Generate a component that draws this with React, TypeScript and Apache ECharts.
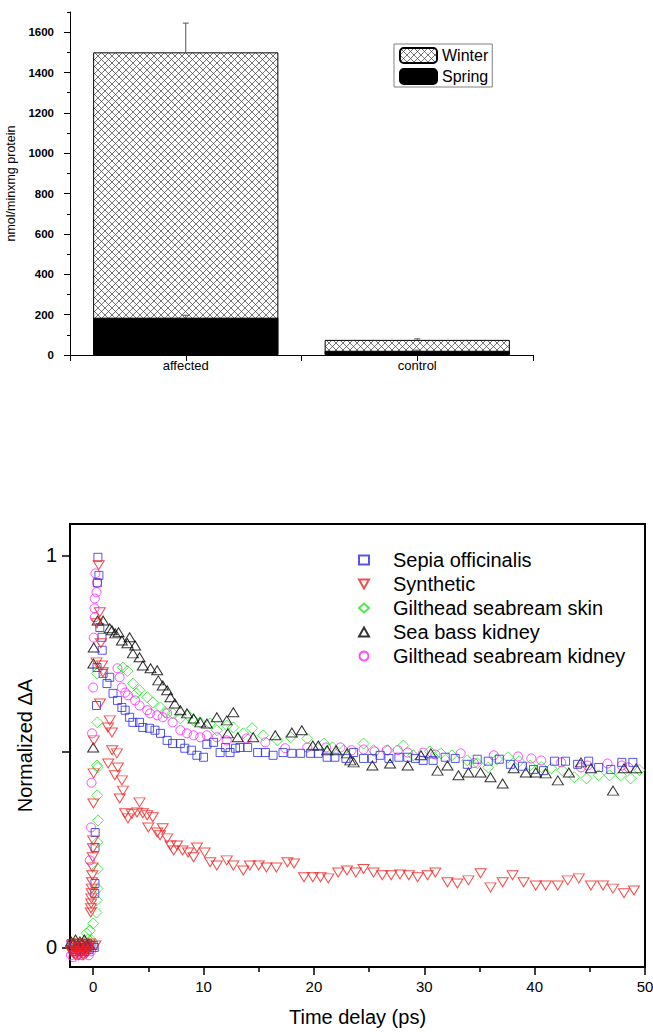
import React, { useEffect, useRef } from "react";
import * as echarts from "echarts";

// ---------- Top chart data ----------
const barCategories = ["affected", "control"];
const winterValues = [1500, 75];
const springValues = [185, 21];
const winterErrors = [145, 5];
const springErrors = [12, 3];
const barMajorTicks = [0, 200, 400, 600, 800, 1000, 1200, 1400, 1600];
const barMinorTicks = [100, 300, 500, 700, 900, 1100, 1300, 1500, 1700];

// ---------- Bottom chart data ----------
const seriesNames = [
  "Sepia officinalis",
  "Synthetic",
  "Gilthead seabream skin",
  "Sea bass kidney",
  "Gilthead seabream kidney",
];
const xMajorTicks = [0, 10, 20, 30, 40, 50];
const xMinorTicks = [5, 15, 25, 35, 45];
const yTicks = [0, 0.5, 1];
const yLabels = [0, 1];

const sepiaData = [
  [-2.0, 0.01], [-1.85, -0.005], [-1.7, 0.005], [-1.55, -0.01], [-1.4, 0.0], [-1.25, 0.01], [-1.1, -0.005],
  [-0.95, 0.005], [-0.8, -0.01], [-0.65, 0.0], [-0.5, 0.01], [-0.35, -0.005], [-0.2, 0.005], [0.0, 0.005], [0.1, 0.0],
  [0.15, 0.138], [0.16, 0.163], [0.17, 0.255], [0.18, 0.293], [0.3, 0.617], [0.35, 0.714], [0.38, 0.93],
  [0.43, 0.995], [0.52, 0.949], [0.6, 0.816], [0.8, 0.791], [0.82, 0.758], [0.9, 0.699], [1.5, 0.689],
  [1.25, 0.673], [1.8, 0.648], [2.2, 0.63], [2.6, 0.612], [2.9, 0.605], [3.3, 0.587], [3.6, 0.574],
  [4.2, 0.574], [4.5, 0.561], [5.1, 0.559], [5.6, 0.554], [6.1, 0.546], [6.7, 0.528], [7.2, 0.52],
  [7.9, 0.52], [8.3, 0.508], [8.9, 0.503], [9.4, 0.49], [10.0, 0.485], [10.3, 0.518], [10.9, 0.523],
  [11.5, 0.497], [12.0, 0.51], [12.4, 0.497], [12.9, 0.508], [13.3, 0.51], [14.0, 0.51], [14.9, 0.497],
  [15.6, 0.497], [16.3, 0.49], [17.2, 0.497], [18.0, 0.495], [18.8, 0.495], [19.7, 0.495], [20.4, 0.495],
  [21.2, 0.485], [21.9, 0.485], [22.9, 0.482], [23.6, 0.497], [24.5, 0.482], [25.3, 0.482], [26.0, 0.49],
  [26.8, 0.482], [27.7, 0.485], [28.5, 0.485], [29.2, 0.482], [29.9, 0.477], [30.8, 0.477], [31.9, 0.485],
  [32.8, 0.482], [33.9, 0.467], [34.8, 0.48], [35.8, 0.475], [36.8, 0.48], [37.8, 0.467], [38.9, 0.462],
  [39.9, 0.454], [40.8, 0.451], [41.8, 0.475], [42.8, 0.475], [43.9, 0.467], [44.9, 0.475], [45.8, 0.459],
  [46.9, 0.454], [47.9, 0.472], [48.9, 0.472],
];

const syntheticData = [
  [-2.0, -0.01], [-1.9, 0.005], [-1.8, -0.015], [-1.7, 0.0], [-1.6, -0.02], [-1.5, 0.01], [-1.4, -0.01],
  [-1.3, -0.02], [-1.2, 0.0], [-1.1, -0.015], [-1.0, -0.005], [-0.9, -0.02], [-0.8, -0.01], [-0.7, 0.005],
  [-0.6, -0.015], [-0.5, -0.005], [-0.4, 0.0], [-0.3, 0.01], [0.2, 0.005],
  [-0.22, 0.089], [-0.2, 0.1], [-0.18, 0.112], [-0.16, 0.125], [-0.14, 0.138], [-0.12, 0.15], [-0.1, 0.166],
  [-0.08, 0.184], [-0.06, 0.204], [-0.04, 0.23], [-0.02, 0.253], [0.0, 0.273], [0.02, 0.367], [0.04, 0.444],
  [0.06, 0.528], [0.3, 0.727], [0.34, 0.827], [0.5, 0.975], [0.6, 0.855], [0.7, 0.776], [0.8, 0.719],
  [0.88, 0.702], [0.62, 0.622], [1.34, 0.561], [1.5, 0.579], [1.7, 0.548], [1.72, 0.503], [2.15, 0.495],
  [1.36, 0.469], [2.24, 0.459], [1.97, 0.439], [2.6, 0.426], [2.7, 0.4], [2.4, 0.38], [2.9, 0.342],
  [3.15, 0.329], [3.5, 0.34], [3.97, 0.344], [4.2, 0.37], [4.5, 0.342], [4.9, 0.337], [5.0, 0.306],
  [5.4, 0.332], [5.8, 0.293], [6.06, 0.286], [6.3, 0.304], [6.7, 0.278], [7.0, 0.26], [7.3, 0.247],
  [7.6, 0.26], [8.1, 0.247], [8.6, 0.242], [9.1, 0.23], [9.4, 0.255], [10.1, 0.242], [10.6, 0.217],
  [11.2, 0.209], [12.1, 0.222], [12.7, 0.209], [13.6, 0.196], [14.2, 0.209], [15.0, 0.209], [15.7, 0.204],
  [16.6, 0.204], [17.6, 0.217], [18.2, 0.214], [19.1, 0.179], [19.9, 0.179], [20.6, 0.179], [21.3, 0.176],
  [22.2, 0.191], [23.0, 0.196], [23.8, 0.191], [24.5, 0.2], [25.4, 0.191], [26.2, 0.184], [27.0, 0.184],
  [27.8, 0.186], [28.6, 0.184], [29.4, 0.179], [30.3, 0.184], [31.0, 0.191], [32.1, 0.166], [33.0, 0.163],
  [34.0, 0.171], [35.1, 0.189], [36.0, 0.153], [37.1, 0.166], [38.0, 0.184], [39.0, 0.166], [40.1, 0.158],
  [41.0, 0.158], [42.1, 0.158], [43.0, 0.171], [44.0, 0.176], [45.1, 0.158], [46.2, 0.158], [47.1, 0.15],
  [48.1, 0.138], [49.0, 0.145],
];

const skinData = [
  [-2.0, 0.0], [-1.7, 0.01], [-1.4, -0.005], [-1.1, 0.005], [-0.8, 0.0], [-0.6, 0.036], [-0.45, 0.02],
  [-0.3, 0.043], [-0.15, 0.018], [0.0, 0.061], [0.3, 0.089], [0.32, 0.12], [0.4, 0.15], [0.42, 0.2],
  [0.38, 0.268], [0.44, 0.324], [0.36, 0.388], [0.4, 0.459], [0.34, 0.464], [0.38, 0.574], [0.35, 0.699],
  [2.7, 0.714], [3.1, 0.705], [3.6, 0.673], [3.9, 0.648], [4.2, 0.656], [4.9, 0.638], [5.4, 0.625],
  [6.1, 0.612], [6.5, 0.6], [7.2, 0.597], [7.9, 0.584], [8.6, 0.592], [9.1, 0.579], [9.7, 0.574],
  [10.6, 0.571], [11.2, 0.554], [12.1, 0.566], [12.7, 0.561], [13.6, 0.546], [14.4, 0.559], [15.4, 0.541],
  [16.7, 0.528], [17.9, 0.536], [19.4, 0.533], [20.9, 0.52], [21.7, 0.51], [22.7, 0.503], [24.5, 0.52],
  [25.4, 0.503], [26.7, 0.503], [28.1, 0.515], [29.0, 0.49], [30.5, 0.5], [31.5, 0.495], [32.5, 0.49],
  [33.9, 0.477], [34.8, 0.47], [35.8, 0.459], [36.6, 0.48], [37.6, 0.485], [38.6, 0.475], [39.6, 0.464],
  [40.6, 0.46], [41.5, 0.457], [42.5, 0.452], [43.6, 0.434], [44.7, 0.431], [45.8, 0.439], [46.8, 0.439],
  [47.8, 0.439], [48.7, 0.431], [49.5, 0.452],
];

const seaBassData = [
  [-2.0, 0.015], [-1.8, 0.01], [-1.6, 0.02], [-1.4, 0.005], [-1.2, 0.015], [-1.0, 0.01], [-0.8, 0.02],
  [-0.6, 0.005], [-0.4, 0.01], [0.0, 0.51], [0.02, 0.724], [0.05, 0.765], [0.4, 0.834], [0.9, 0.834],
  [1.5, 0.814], [1.7, 0.809], [2.0, 0.801], [2.3, 0.804], [2.6, 0.783], [3.1, 0.776], [3.3, 0.791],
  [3.6, 0.75], [3.8, 0.77], [4.2, 0.74], [4.5, 0.719], [5.2, 0.712], [5.8, 0.707], [5.9, 0.681],
  [6.3, 0.668], [6.7, 0.656], [7.0, 0.638], [7.4, 0.622], [7.9, 0.605], [8.5, 0.597], [9.1, 0.584],
  [9.7, 0.574], [10.3, 0.571], [11.2, 0.587], [12.1, 0.579], [12.7, 0.6], [12.2, 0.546], [13.1, 0.536],
  [14.5, 0.536], [16.5, 0.541], [18.0, 0.548], [18.9, 0.554], [19.9, 0.515], [20.4, 0.515], [21.2, 0.503],
  [22.0, 0.503], [23.0, 0.495], [23.3, 0.477], [23.6, 0.472], [25.3, 0.464], [26.9, 0.469], [28.5, 0.464],
  [29.7, 0.49], [30.6, 0.495], [31.2, 0.451], [32.1, 0.464], [33.1, 0.439], [34.0, 0.446], [35.1, 0.446],
  [36.0, 0.434], [37.1, 0.418], [38.1, 0.457], [39.2, 0.446], [40.1, 0.446], [41.0, 0.444], [42.1, 0.426],
  [43.1, 0.446], [44.2, 0.472], [45.1, 0.457], [47.1, 0.4], [48.1, 0.457], [49.2, 0.457],
];

const kidneyData = [
  [-2.0, -0.02], [-1.8, -0.025], [-1.6, -0.015], [-1.4, -0.02], [-1.2, -0.01], [-1.0, -0.02], [-0.8, -0.015],
  [-0.6, -0.01], [-0.4, -0.02], [-0.2, -0.01], [-0.3, 0.222], [-0.2, 0.306], [-0.15, 0.42], [-0.1, 0.546],
  [0.0, 0.663], [0.05, 0.79], [0.15, 0.842], [0.12, 0.865], [0.15, 0.89], [0.3, 0.906], [0.35, 0.93],
  [0.2, 0.954], [2.2, 0.712], [2.4, 0.689], [2.6, 0.663], [2.9, 0.65], [3.15, 0.643], [3.8, 0.63],
  [4.2, 0.617], [4.9, 0.605], [5.15, 0.597], [5.8, 0.592], [6.3, 0.587], [6.7, 0.597], [7.2, 0.574],
  [7.9, 0.554], [8.5, 0.546], [9.1, 0.541], [9.7, 0.536], [10.3, 0.541], [11.2, 0.536], [12.1, 0.528],
  [13.9, 0.533], [15.6, 0.523], [17.4, 0.508], [19.4, 0.51], [21.1, 0.51], [22.4, 0.51], [23.4, 0.503],
  [24.5, 0.505], [25.5, 0.5], [26.6, 0.503], [27.6, 0.503], [28.5, 0.497], [29.9, 0.497], [31.0, 0.492],
  [33.3, 0.495], [34.5, 0.47], [36.3, 0.49], [38.5, 0.487], [39.7, 0.482], [40.6, 0.477], [42.4, 0.472],
  [44.2, 0.459], [44.8, 0.464], [46.6, 0.469], [47.9, 0.464], [48.5, 0.459],
];

const FONT = "'Liberation Sans', Arial, sans-serif";

export default function App() {
  const ref = useRef<HTMLDivElement>(null);

  useEffect(() => {
    if (!ref.current) return;
    const chart = echarts.init(ref.current, null, { renderer: "svg" });

    const T = 7;
    const cv = document.createElement("canvas");
    cv.width = T;
    cv.height = T;
    const ctx = cv.getContext("2d");
    if (ctx) {
      ctx.fillStyle = "#ffffff";
      ctx.fillRect(0, 0, T, T);
      ctx.strokeStyle = "#3a3a3a";
      ctx.lineWidth = 0.7;
      ctx.beginPath();
      ctx.moveTo(-1, -1);
      ctx.lineTo(T + 1, T + 1);
      ctx.moveTo(T + 1, -1);
      ctx.lineTo(-1, T + 1);
      ctx.stroke();
    }
    const hatch: any = { image: cv, repeat: "repeat" };

    const errRender = (params: any, api: any) => {
      const x = api.value(0);
      const v = api.value(1);
      const e = api.value(2);
      const p0 = api.coord([x, v]);
      const p1 = api.coord([x, v + e]);
      return {
        type: "group",
        children: [
          { type: "line", shape: { x1: p0[0], y1: p0[1], x2: p1[0], y2: p1[1] }, style: { stroke: "#555", lineWidth: 1 } },
          { type: "line", shape: { x1: p1[0] - 3, y1: p1[1], x2: p1[0] + 3, y2: p1[1] }, style: { stroke: "#555", lineWidth: 1 } },
        ],
      };
    };

    const scatterBase = (name: string, data: number[][], color: string, symbol: string, size: any, rotate = 0) => ({
      name,
      type: "scatter",
      xAxisIndex: 2,
      yAxisIndex: 2,
      data,
      symbol,
      symbolSize: size,
      symbolRotate: rotate,
      itemStyle: { color: "rgba(255,255,255,0)", borderColor: color, borderWidth: 1 },
      silent: true,
    });

    const legendItems = seriesNames.map((n) =>
      n === "Synthetic" ? { name: n, icon: "path://M0,0L10,0L5,9Z" } : { name: n }
    );

    const option: any = {
      animation: false,
      backgroundColor: "#fff",
      textStyle: { fontFamily: FONT, color: "#000" },
      grid: [
        { left: 70, top: 12, width: 463, height: 343, outerBoundsMode: "none" },
        { left: 70, top: 524, right: 8, bottom: 65, show: true, borderColor: "#000", borderWidth: 2, backgroundColor: "rgba(0,0,0,0)", outerBoundsMode: "none" },
      ],
      legend: [
        {
          data: ["Winter", "Spring"],
          orient: "vertical",
          left: 394,
          top: 44,
          itemWidth: 37,
          itemHeight: 15,
          itemGap: 4,
          padding: [3, 4, 2, 5],
          borderColor: "#808080",
          borderWidth: 1,
          textStyle: { fontSize: 16, lineHeight: 16, color: "#000", fontFamily: FONT },
          selectedMode: false,
        },
        {
          data: legendItems,
          orient: "vertical",
          left: 358,
          top: 550,
          itemWidth: 10,
          itemHeight: 9,
          itemGap: 4,
          padding: 0,
          textStyle: { fontSize: 20, lineHeight: 20, color: "#000", fontFamily: FONT, padding: [0, 0, 0, 19] },
          selectedMode: false,
        },
      ],
      xAxis: [
        {
          gridIndex: 0,
          type: "category",
          data: barCategories,
          axisLine: { show: true, onZero: false, lineStyle: { color: "#000", width: 1 } },
          axisTick: { show: false },
          axisLabel: { fontSize: 13, color: "#000", margin: 4, fontFamily: FONT },
          splitLine: { show: false },
        },
        {
          gridIndex: 0,
          type: "value",
          position: "bottom",
          min: 0,
          max: 4,
          interval: 1,
          axisLine: { show: false, onZero: false },
          axisTick: { show: true, length: 6, lineStyle: { color: "#000", width: 1 } },
          axisLabel: { show: false },
          splitLine: { show: false },
        },
        {
          gridIndex: 1,
          type: "value",
          position: "bottom",
          min: -2.1,
          max: 50,
          axisLine: { show: true, onZero: false, lineStyle: { color: "#000", width: 2 } },
          axisTick: { show: true, customValues: xMajorTicks, length: 8, lineStyle: { color: "#000", width: 1.5 } },
          axisLabel: { customValues: xMajorTicks, fontSize: 15, color: "#000", margin: 12, fontFamily: FONT },
          splitLine: { show: false },
          name: "Time delay (ps)",
          nameLocation: "middle",
          nameGap: 40,
          nameTextStyle: { fontSize: 20, color: "#000", fontFamily: FONT },
        },
        {
          gridIndex: 1,
          type: "value",
          position: "bottom",
          min: -2.1,
          max: 50,
          axisLine: { show: false, onZero: false },
          axisTick: { show: true, customValues: xMinorTicks, length: 5, lineStyle: { color: "#000", width: 1.5 } },
          axisLabel: { show: false },
          splitLine: { show: false },
        },
      ],
      yAxis: [
        {
          gridIndex: 0,
          type: "value",
          position: "left",
          min: 0,
          max: 1700,
          axisLine: { show: true, onZero: false, lineStyle: { color: "#000", width: 1 } },
          axisTick: { show: true, customValues: barMajorTicks, length: 6, lineStyle: { color: "#000", width: 1 } },
          axisLabel: {
            customValues: barMajorTicks,
            formatter: (v: number) => String(v),
            fontSize: 11.5,
            fontWeight: "bold",
            color: "#000",
            margin: 16,
            fontFamily: FONT,
          },
          splitLine: { show: false },
          name: "nmol/minxmg protein",
          nameLocation: "middle",
          nameGap: 42,
          nameTextStyle: { fontSize: 12.5, color: "#000", fontFamily: FONT },
        },
        {
          gridIndex: 0,
          type: "value",
          position: "left",
          min: 0,
          max: 1700,
          axisLine: { show: false, onZero: false },
          axisTick: { show: true, customValues: barMinorTicks, length: 3, lineStyle: { color: "#000", width: 1 } },
          axisLabel: { show: false },
          splitLine: { show: false },
        },
        {
          gridIndex: 1,
          type: "value",
          position: "left",
          min: -0.05,
          max: 1.08,
          axisLine: { show: true, onZero: false, lineStyle: { color: "#000", width: 2 } },
          axisTick: { show: true, customValues: yTicks, length: 8, lineStyle: { color: "#000", width: 1.5 } },
          axisLabel: { customValues: yLabels, fontSize: 20, color: "#000", margin: 13, fontFamily: FONT },
          splitLine: { show: false },
          name: "Normalized \u0394A",
          nameLocation: "middle",
          nameGap: 29,
          nameTextStyle: { fontSize: 20, color: "#000", fontFamily: FONT },
        },
      ],
      series: [
        {
          name: "Winter",
          type: "bar",
          xAxisIndex: 0,
          yAxisIndex: 0,
          data: winterValues,
          barWidth: "80%",
          barGap: "-100%",
          itemStyle: { color: hatch, borderColor: "#000", borderWidth: 1 },
          silent: true,
        },
        {
          name: "Spring",
          type: "bar",
          xAxisIndex: 0,
          yAxisIndex: 0,
          data: springValues,
          barWidth: "80%",
          barGap: "-100%",
          itemStyle: { color: "#000", borderColor: "#000", borderWidth: 1 },
          silent: true,
        },
        {
          name: "winterErr",
          type: "custom",
          xAxisIndex: 0,
          yAxisIndex: 0,
          data: winterValues.map((v, i) => [i, v, winterErrors[i]]),
          encode: { x: 0, y: 1 },
          renderItem: errRender,
          z: 5,
          silent: true,
        },
        {
          name: "springErr",
          type: "custom",
          xAxisIndex: 0,
          yAxisIndex: 0,
          data: springValues.map((v, i) => [i, v, springErrors[i]]),
          encode: { x: 0, y: 1 },
          renderItem: errRender,
          z: 5,
          silent: true,
        },
        scatterBase(seriesNames[2], skinData, "#1ee61e", "diamond", 11),
        scatterBase(seriesNames[4], kidneyData, "#ff1eff", "circle", 9),
        scatterBase(seriesNames[3], seaBassData, "#000000", "triangle", [11, 9]),
        scatterBase(seriesNames[0], sepiaData, "#2a2ae6", "rect", 8),
        scatterBase(seriesNames[1], syntheticData, "#f02020", "triangle", [11, 9], 180),
      ],
    };

    chart.setOption(option);
    return () => chart.dispose();
  }, []);

  return (
    <div
      ref={ref}
      style={{ position: "fixed", left: 0, top: 0, width: 653, height: 1032, background: "#fff" }}
    />
  );
}
